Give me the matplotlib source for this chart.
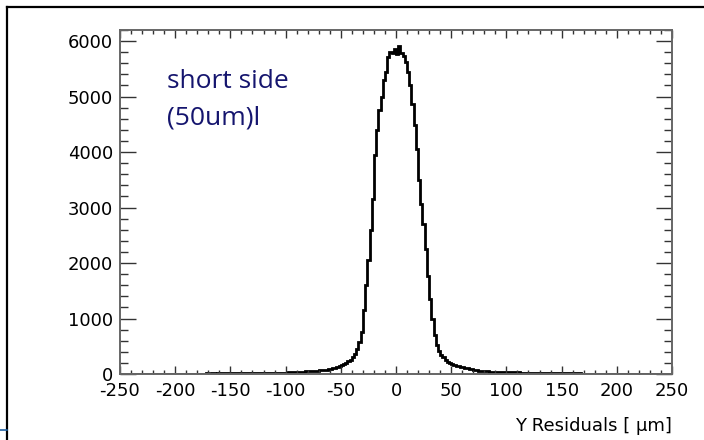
import numpy as np
import matplotlib
matplotlib.use("Agg")
import matplotlib.pyplot as plt
from matplotlib.lines import Line2D
from matplotlib.ticker import MultipleLocator

# Y residual histogram, 2 um bins from -250 to 250 (counts)
bin_width = 2
x_min, x_max = -250, 250

left_far = [3, 4, 3, 4, 4, 3, 5, 4, 4, 5, 4, 5, 5, 4, 6, 5, 5, 6, 5, 6, 6, 5, 7, 6, 6]
left_mid = [7, 6, 7, 7, 8, 7, 8, 8, 7, 9, 8, 9, 9, 8, 10, 9, 10, 10, 9, 11, 10, 11, 11, 12, 11]
left_near = [12, 13, 12, 13, 14, 13, 14, 15, 14, 15, 16, 15, 17, 16, 17, 18, 17, 19, 18, 20, 19, 21, 20, 22, 24]
left_shoulder = [26, 28, 30, 32, 34, 36, 38, 40, 43, 46, 49, 52, 55, 59, 63, 67, 71, 75, 80, 86,
                 92, 100, 110, 122, 138]
core_left = [165, 185, 205, 230, 260, 305, 365, 450, 580, 760, 1150, 1600, 2050, 2600, 3150,
             3950, 4400, 4750, 5000, 5300, 5450, 5720, 5800, 5780, 5850]
core_right = [5760, 5920, 5780, 5740, 5620, 5440, 5200, 4860, 4480, 4060, 3500, 3060, 2700,
              2250, 1760, 1360, 1000, 700, 520, 420, 350, 300, 255, 220, 195]
right_shoulder = [175, 160, 148, 137, 128, 118, 110, 103, 95, 88, 80, 72, 62, 56, 52, 50, 47,
                  45, 43, 41, 40, 38, 37, 36, 34]
right_near = [33, 32, 31, 30, 29, 28, 27, 26, 25, 24, 23, 22, 21, 21, 20, 19, 18, 18, 17, 16,
              16, 15, 15, 14, 14]
right_mid = [13, 13, 12, 12, 11, 11, 10, 10, 10, 9, 9, 9, 8, 8, 8, 7, 7, 7, 7, 6, 6, 6, 6, 5, 5]
right_far = [5, 5, 5, 4, 5, 4, 4, 4, 4, 3, 4, 4, 3, 3, 4, 3, 3, 3, 3, 3, 2, 3, 3, 2, 3]

counts = np.concatenate([left_far, left_mid, left_near, left_shoulder, core_left,
                         core_right, right_shoulder, right_near, right_mid, right_far])
edges = np.arange(x_min, x_max + bin_width, bin_width)

x_ticks = [-250, -200, -150, -100, -50, 0, 50, 100, 150, 200, 250]
y_ticks = [0, 1000, 2000, 3000, 4000, 5000, 6000]

plt.rcParams['font.family'] = ['DejaVu Sans']
plt.rcParams['axes.unicode_minus'] = False

fig = plt.figure(figsize=(7.04, 4.4), dpi=100)
ax = fig.add_axes([120 / 704, 1 - 374 / 440, 552 / 704, 344 / 440])

ax.stairs(counts, edges, color='black', lw=2.0)

ax.set_xlim(x_min, x_max)
ax.set_ylim(0, 6200)
ax.set_xticks(x_ticks)
ax.set_yticks(y_ticks)
ax.xaxis.set_minor_locator(MultipleLocator(10))
ax.yaxis.set_minor_locator(MultipleLocator(200))

# ROOT-like frame: ticks inside on all four sides
for s in ax.spines.values():
    s.set_color('#666666')
    s.set_linewidth(1.4)
ax.tick_params(axis='both', which='both', direction='in', top=True, right=True,
               color='#333333', width=1.0, labelsize=13)
ax.tick_params(axis='x', which='major', length=5.5, pad=5.5)
ax.tick_params(axis='x', which='minor', length=2.8)
ax.tick_params(axis='y', which='major', length=11.5, pad=5)
ax.tick_params(axis='y', which='minor', length=5.8)

ax.text(1.0, -0.15, 'Y Residuals [ μm]', transform=ax.transAxes, ha='right', va='center',
        fontsize=13)

navy = '#15156e'
ax.text(0.085, 0.831, 'short side', transform=ax.transAxes, ha='left', va='baseline',
        fontsize=19, color=navy, family=['Open Sans', 'DejaVu Sans'])
ax.text(0.085, 0.724, '(50um)l', transform=ax.transAxes, ha='left', va='baseline',
        fontsize=19, color=navy, family=['Open Sans', 'DejaVu Sans'])

# outer canvas border (left and top) and the little blue mark at the corner
fig.add_artist(Line2D([7 / 704, 7 / 704], [0, 1 - 7 / 440], color='black', lw=1.6))
fig.add_artist(Line2D([7 / 704, 1], [1 - 7 / 440, 1 - 7 / 440], color='black', lw=1.6))
fig.add_artist(Line2D([0, 7 / 704], [1 - 430 / 440, 1 - 430 / 440], color='#1f5fa0', lw=1.2))

fig.savefig('out.png', dpi=100)
